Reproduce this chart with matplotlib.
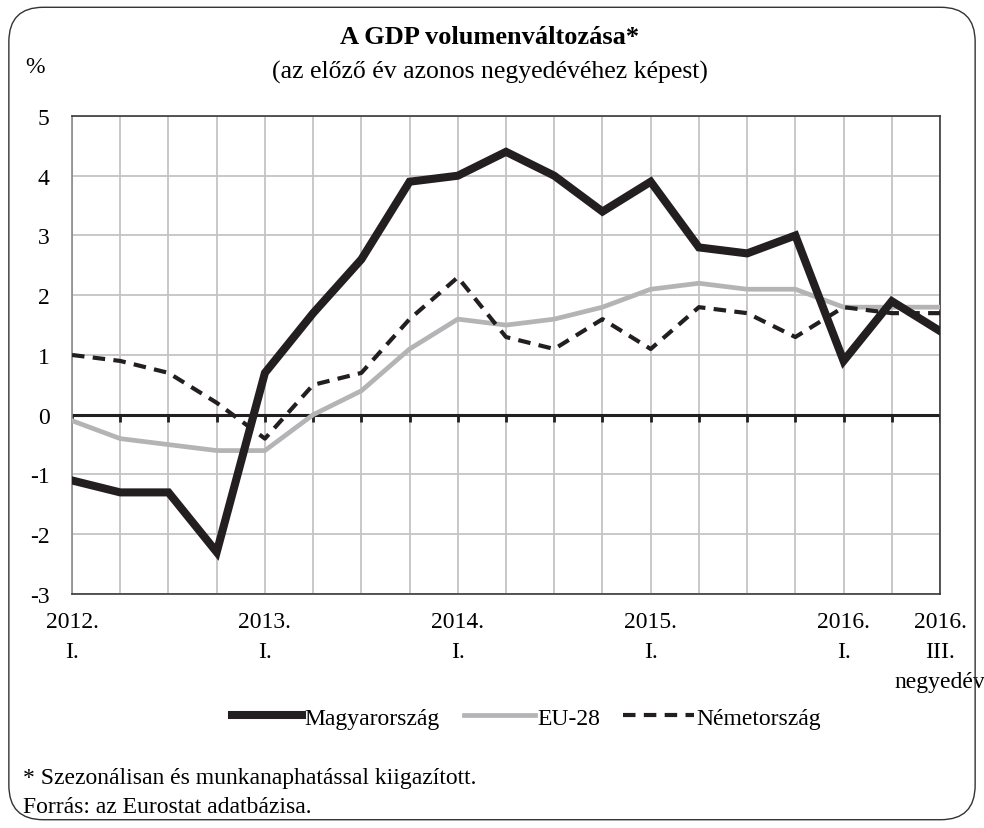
import numpy as np
import matplotlib
matplotlib.use('Agg')
from matplotlib import pyplot as plt
from matplotlib.patches import FancyBboxPatch

plt.rcParams['font.family'] = ['Liberation Serif', 'DejaVu Serif']

quarters = list(range(19))
tick_pos = [0, 4, 8, 12, 16, 18]
tick_labels = ['2012.\nI.', '2013.\nI.', '2014.\nI.', '2015.\nI.', '2016.\nI.', '2016.\nIII.\nnegyedév']

hu = [-1.1, -1.3, -1.3, -2.3, 0.7, 1.7, 2.6, 3.9, 4.0, 4.4, 4.0, 3.4, 3.9, 2.8, 2.7, 3.0, 0.9, 1.9, 1.4]
eu = [-0.1, -0.4, -0.5, -0.6, -0.6, 0.0, 0.4, 1.1, 1.6, 1.5, 1.6, 1.8, 2.1, 2.2, 2.1, 2.1, 1.8, 1.8, 1.8]
de = [1.0, 0.9, 0.7, 0.2, -0.4, 0.5, 0.7, 1.6, 2.3, 1.3, 1.1, 1.6, 1.1, 1.8, 1.7, 1.3, 1.8, 1.7, 1.7]

fig = plt.figure(figsize=(9.84, 8.29), dpi=100)
ax = fig.add_axes([0.0732, 0.2823, 0.8821, 0.5766])

# rounded frame around the whole figure
frame = FancyBboxPatch((0.009, 0.01), 0.982, 0.98, boxstyle='round,pad=0,rounding_size=0.035',
                       transform=fig.transFigure, fill=False, edgecolor='#333333', lw=1.0,
                       mutation_aspect=984 / 829)
fig.patches.append(frame)

ax.set_xlim(0, 18)
ax.set_ylim(-3, 5)
ax.set_yticks(range(-3, 6))
ax.set_yticklabels([str(v) for v in range(-3, 6)], fontsize=17)
ax.set_xticks(quarters, minor=False)
ax.set_xticklabels([''] * 19)
ax.grid(True, color='#c4c4c4', lw=1.3, zorder=0)
ax.tick_params(axis='both', length=0, pad=16)
for s in ax.spines.values():
    s.set_color('#3a3a3a')
    s.set_linewidth(1.2)
ax.spines['left'].set_color('#8a8a8a')

# zero line with small ticks below it
ax.axhline(0, color='#231f20', lw=2.2, zorder=2)
ax.vlines(quarters, -0.12, 0, color='#231f20', lw=2.0, zorder=2)

for p, lab in zip(tick_pos, tick_labels):
    ax.text(p, -3.29, lab, ha='center', va='top', fontsize=17, linespacing=1.55)

ax.plot(quarters, hu, color='#231f20', lw=5.8, solid_joinstyle='miter', zorder=4, label='Magyarország')
ax.plot(quarters, eu, color='#b4b4b6', lw=3.4, zorder=3, label='EU-28')
ax.plot(quarters, de, color='#231f20', lw=3.0, dashes=(3, 2), zorder=3, label='Németország')

leg = fig.legend(loc='center', bbox_to_anchor=(0.535, 0.133), ncol=3, frameon=False,
                 fontsize=17, handlelength=3.0, handletextpad=0.1, columnspacing=1.0)

fig.text(0.498, 0.955, 'A GDP volumenváltozása*', ha='center', va='center', fontsize=19, fontweight='bold')
fig.text(0.498, 0.912, '(az előző év azonos negyedévéhez képest)', ha='center', va='center', fontsize=18.5)
fig.text(0.036, 0.918, '%', ha='center', va='center', fontsize=17)
fig.text(0.023, 0.061, '* Szezonálisan és munkanaphatással kiigazított.', ha='left', va='center', fontsize=17)
fig.text(0.023, 0.026, 'Forrás: az Eurostat adatbázisa.', ha='left', va='center', fontsize=17)

fig.savefig('out.png', dpi=100)
